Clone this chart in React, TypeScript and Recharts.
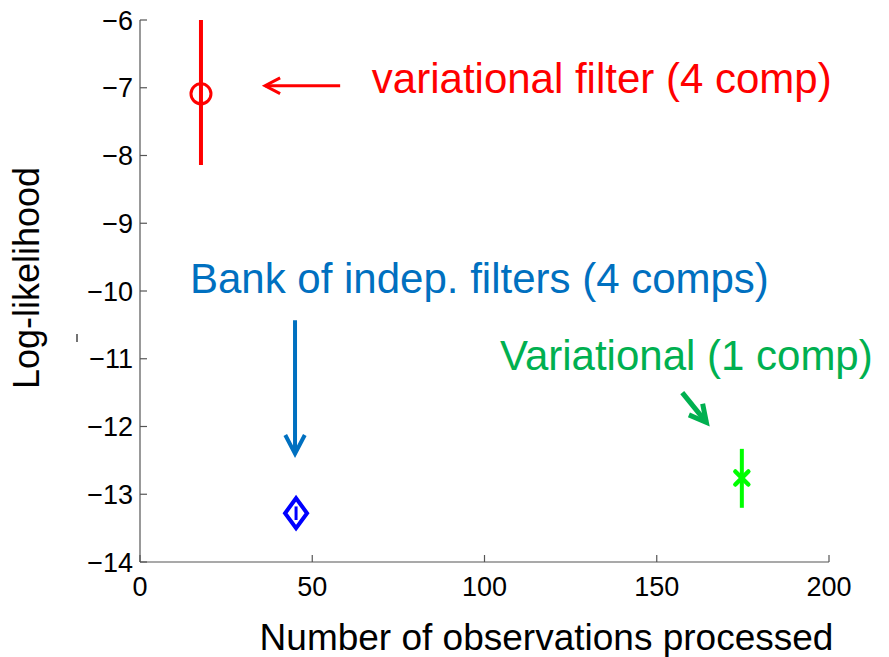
import React from 'react';
import {
  ScatterChart,
  Scatter,
  XAxis,
  YAxis,
  ErrorBar,
  ReferenceLine,
  ReferenceDot,
  Label,
} from 'recharts';

const FONT = 'Liberation Sans, Arial, Helvetica, sans-serif';

const xTicks = [0, 50, 100, 150, 200];
const yTicks = [-14, -13, -12, -11, -10, -9, -8, -7, -6];

// err = [below, above]
const variationalFilter4 = [{ x: 17.7, y: -7.09, err: [1.05, 1.09] }];
const bankOfFilters4 = [{ x: 45.3, y: -13.28, err: [0.1, 0.1] }];
const variational1 = [{ x: 174.7, y: -12.76, err: [0.44, 0.43] }];

const annotationTexts = [
  { text: 'variational filter (4 comp)', x: 67.3, y: -7.08, color: '#FF0000' },
  { text: 'Bank of indep. filters (4 comps)', x: 14.5, y: -10.03, color: '#0070C0' },
  { text: 'Variational (1 comp)', x: 104.5, y: -11.17, color: '#00B050' },
];

const arrows = [
  { x1: 58.1, y1: -6.97, x2: 36.3, y2: -6.97, color: '#FF0000', width: 3, head: 17 },
  { x1: 45.0, y1: -10.43, x2: 45.0, y2: -12.4, color: '#0070C0', width: 4, head: 21 },
  { x1: 157.4, y1: -11.5, x2: 164.4, y2: -11.94, color: '#00B050', width: 5, head: 19 },
];

const fmt = (v: number) => String(v).replace('-', '\u2212');

const makeArrow = (color: string, w: number, len: number) => (p: any) => {
  const { x1, y1, x2, y2 } = p;
  const ang = Math.atan2(y2 - y1, x2 - x1);
  const a = Math.PI / 6.5;
  const ax = x2 - len * Math.cos(ang - a);
  const ay = y2 - len * Math.sin(ang - a);
  const bx = x2 - len * Math.cos(ang + a);
  const by = y2 - len * Math.sin(ang + a);
  return (
    <g>
      <line x1={x1} y1={y1} x2={x2} y2={y2} stroke={color} strokeWidth={w} />
      <polyline
        points={`${ax},${ay} ${x2},${y2} ${bx},${by}`}
        fill="none"
        stroke={color}
        strokeWidth={w}
        strokeLinejoin="miter"
      />
    </g>
  );
};

const makeText = (text: string, color: string) => (p: any) => (
  <text x={p.cx} y={p.cy} fill={color} fontSize={42} fontFamily={FONT} textAnchor="start">
    {text}
  </text>
);

const CircleShape = (p: any) => (
  <circle cx={p.cx} cy={p.cy} r={10} fill="none" stroke="#FF0000" strokeWidth={3} />
);

const DiamondShape = (p: any) => {
  const { cx, cy } = p;
  const hw = 11;
  const hh = 15;
  return (
    <polygon
      points={`${cx},${cy - hh} ${cx + hw},${cy} ${cx},${cy + hh} ${cx - hw},${cy}`}
      fill="none"
      stroke="#0000FF"
      strokeWidth={4}
    />
  );
};

const XShape = (p: any) => {
  const { cx, cy } = p;
  const s = 6.5;
  return (
    <g stroke="#00FF00" strokeWidth={4.5} strokeLinecap="round">
      <line x1={cx - s} y1={cy - s} x2={cx + s} y2={cy + s} />
      <line x1={cx - s} y1={cy + s} x2={cx + s} y2={cy - s} />
    </g>
  );
};

const tickStyle = { fill: '#000', fontSize: 27, fontFamily: FONT };

export default function App() {
  return (
    <div style={{ position: 'absolute', left: 0, top: 0, width: 889, height: 657, background: '#fff' }}>
      <ScatterChart width={889} height={657} margin={{ top: 20, right: 60, bottom: 0, left: 0 }}>
        <XAxis
          type="number"
          dataKey="x"
          domain={[0, 200]}
          ticks={xTicks}
          tickFormatter={fmt}
          height={95}
          tickSize={-7}
          tickMargin={22}
          tick={tickStyle}
          axisLine={{ stroke: '#555', strokeWidth: 1.2 }}
          tickLine={{ stroke: '#555', strokeWidth: 1.2 }}
          interval={0}
        >
          <Label
            content={() => (
              <text x={546.5} y={650} textAnchor="middle" fontSize={37} fontFamily={FONT} fill="#000">
                Number of observations processed
              </text>
            )}
          />
        </XAxis>
        <YAxis
          type="number"
          dataKey="y"
          domain={[-14, -6]}
          ticks={yTicks}
          tickFormatter={fmt}
          width={140}
          tickSize={-7}
          tickMargin={14}
          tick={tickStyle}
          axisLine={{ stroke: '#555', strokeWidth: 1.2 }}
          tickLine={{ stroke: '#555', strokeWidth: 1.2 }}
          interval={0}
        >
          <Label
            content={() => (
              <g>
                <text
                  x={39}
                  y={278}
                  transform="rotate(-90, 39, 278)"
                  textAnchor="middle"
                  fontSize={36}
                  fontFamily={FONT}
                  fill="#000"
                >
                  Log-likelihood
                </text>
                <line x1={77} y1={334} x2={77} y2={342} stroke="#444" strokeWidth={1.5} />
              </g>
            )}
          />
        </YAxis>

        {arrows.map((a, i) => (
          <ReferenceLine
            key={`arrow-${i}`}
            segment={[
              { x: a.x1, y: a.y1 },
              { x: a.x2, y: a.y2 },
            ]}
            ifOverflow="visible"
            stroke={a.color}
            shape={makeArrow(a.color, a.width, a.head)}
          />
        ))}

        {annotationTexts.map((t, i) => (
          <ReferenceDot
            key={`txt-${i}`}
            x={t.x}
            y={t.y}
            r={0}
            ifOverflow="visible"
            shape={makeText(t.text, t.color)}
          />
        ))}

        <Scatter data={variationalFilter4} shape={CircleShape} isAnimationActive={false}>
          <ErrorBar dataKey="err" direction="y" width={0} stroke="#FF0000" strokeWidth={4} isAnimationActive={false} />
        </Scatter>
        <Scatter data={bankOfFilters4} shape={DiamondShape} isAnimationActive={false}>
          <ErrorBar dataKey="err" direction="y" width={0} stroke="#0000FF" strokeWidth={3} isAnimationActive={false} />
        </Scatter>
        <Scatter data={variational1} shape={XShape} isAnimationActive={false}>
          <ErrorBar dataKey="err" direction="y" width={0} stroke="#00FF00" strokeWidth={4} isAnimationActive={false} />
        </Scatter>
      </ScatterChart>
    </div>
  );
}
